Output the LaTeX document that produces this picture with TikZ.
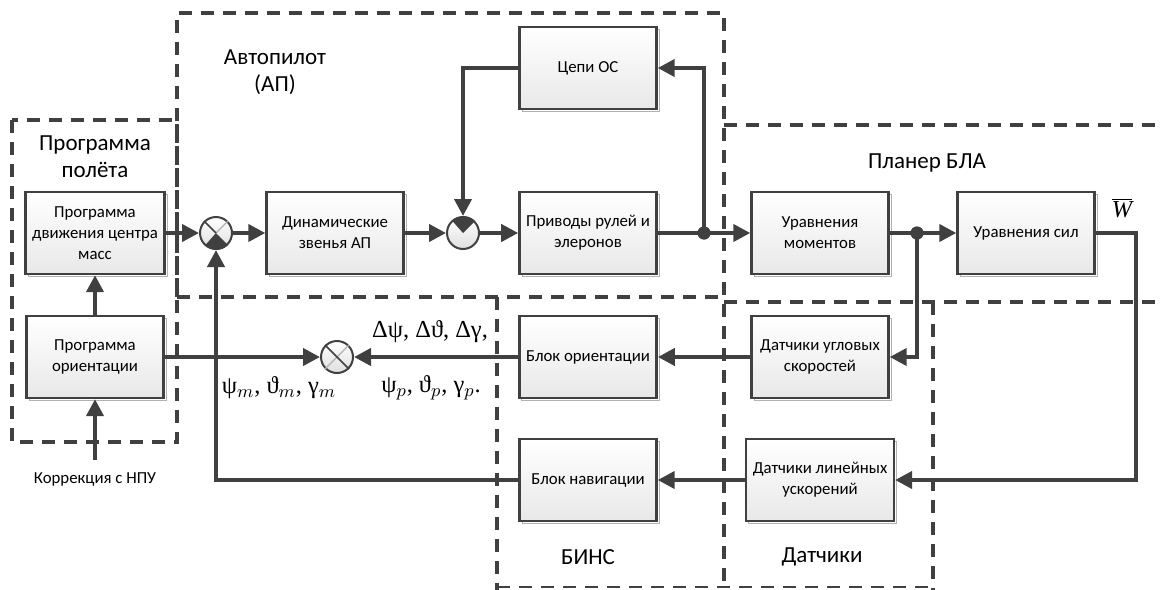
\documentclass[tikz,border=0pt]{standalone}
\usepackage{fontspec}
\setmainfont{Carlito}
\newfontfamily\grk{Liberation Serif}
\usetikzlibrary{arrows.meta, shadows}

\colorlet{linec}{black!75}

\begin{document}
\begin{tikzpicture}[
    x=0.5pt, y=-0.5pt,  % one unit = one pixel of the sketch grid
    >={Triangle[length=8.5pt, width=8.5pt]},
    block/.style={rectangle, draw=linec, line width=1.2pt,
        top color=white, bottom color=gray!18,
        minimum width=68.5pt, minimum height=41pt,
        align=center, font=\fontsize{8.4}{10.5}\selectfont,
        copy shadow={shadow xshift=1.3pt, shadow yshift=-1.3pt,
            draw=gray!60, line width=0.5pt, fill=white}},
    sum/.style={circle, draw=linec, line width=1pt, inner sep=0pt,
        minimum size=16pt, top color=white, bottom color=gray!25},
    dot/.style={circle, fill=linec, inner sep=0pt, minimum size=6.5pt},
    conn/.style={->, line width=2pt, draw=linec},
    zone/.style={line width=2pt, draw=linec, dash pattern=on 6.5pt off 4.5pt},
    zone label/.style={align=center, font=\fontsize{11.5}{13.5}\selectfont},
    sig/.style={font=\grk\fontsize{12.2}{14}\selectfont},
]
\useasboundingbox (0,0) rectangle (1160,589);

% ── Dashed zones ──────────────────────────────────────────────────────────────
\draw[zone] (12,120) rectangle (177,442);                 % program
\draw[zone] (177,297) -- (177,13) -- (724,13) -- (724,600); % autopilot
\draw[zone] (177,297) -- (724,297);
\draw[zone] (497,297) -- (497,600);                       % BINS
\draw[zone] (724,125) -- (1170,125);                      % airframe
\draw[zone] (724,302) -- (1170,302);
\draw[zone] (933,302) -- (933,600);                       % sensors
\draw[zone, line width=1pt] (497,587) -- (933,587);

% ── Zone titles ───────────────────────────────────────────────────────────────
\node[zone label] (tprog)  at (95,157)  {Программа\\полёта};
\node[zone label] (tap)    at (275,72)  {Автопилот\\(АП)};
\node[zone label] (tplan)  at (927,163) {Планер БЛА};
\node[zone label] (tbins)  at (588,557) {БИНС};
\node[zone label] (tsens)  at (822,557) {Датчики};

% ── Blocks ────────────────────────────────────────────────────────────────────
\node[block] (progcm) at (95,233)  {Программа\\движения центра\\масс};
\node[block] (progor) at (95,357)  {Программа\\ориентации};
\node[block] (dyn)    at (335,233) {Динамические\\звенья АП};
\node[block] (fb)     at (588,68)  {Цепи ОС};
\node[block] (act)    at (588,233) {Приводы рулей и\\элеронов};
\node[block] (mom)    at (820,233) {Уравнения\\моментов};
\node[block] (force)  at (1026,233) {Уравнения сил};
\node[block] (gyro)   at (820,357) {Датчики угловых\\скоростей};
\node[block] (accel)  at (820,480) {Датчики линейных\\ускорений};
\node[block] (orient) at (588,357) {Блок ориентации};
\node[block] (nav)    at (588,480) {Блок навигации};

% ── Summing junctions ─────────────────────────────────────────────────────────
\node[sum] (s1) at (216,233) {};
\node[sum] (s2) at (463,233) {};
\node[sum] (s3) at (337,357) {};

\fill[linec] (s1.center) -- (s1.-45) arc[start angle=-45, end angle=-135, radius=8pt] -- cycle;
\draw[gray!60, line width=0.6pt] (s1.45) -- (s1.center);
\draw[linec, line width=0.8pt] (s1.135) -- (s1.center);
\fill[linec] (s2.center) -- (s2.45) arc[start angle=45, end angle=135, radius=8pt] -- cycle;
\draw[gray!60, line width=0.6pt] (s3.45) -- (s3.-135);
\draw[linec, line width=0.8pt] (s3.135) -- (s3.-45);

% ── Turning points ────────────────────────────────────────────────────────────
\coordinate (wturn) at (1136,233);
\coordinate (npu)   at (95,460);

% ── Forward path ──────────────────────────────────────────────────────────────
\draw[conn] (progcm) -- (s1);
\draw[conn] (s1) -- (dyn);
\draw[conn] (dyn) -- (s2);
\draw[conn] (s2) -- (act);
\node[dot] (d1) at (704,233) {};
\draw[conn] (act) -- (mom);
\node[dot] (d2) at (917,233) {};
\draw[conn] (mom) -- (force);

% ── Feedback loops ────────────────────────────────────────────────────────────
\draw[conn] (d1.center) |- (fb.east);
\draw[conn] (fb.west) -| (s2.north);
\draw[conn] (d2.center) |- (gyro.east);
\draw[conn] (force.east) -- (wturn) |- (accel.east);
\draw[conn] (gyro) -- (orient);
\draw[conn] (accel) -- (nav);
\draw[conn] (orient) -- (s3);
\draw[conn] (progor) -- (s3);
\draw[conn] (nav.west) -| (s1.south);
\draw[conn] (progor) -- (progcm);
\draw[conn] (npu) -- (progor.south);

% redraw the branch dots on top of the wires
\node[dot] at (d1) {};
\node[dot] at (d2) {};

% ── Signal labels ─────────────────────────────────────────────────────────────
\node[font=\fontsize{8.4}{10}\selectfont] (npulbl) at (95,479) {Коррекция с НПУ};
\node[sig] (wlbl) at (1122,208) {$\overline{\hbox{\grk\itshape W}}$};
\node[sig] (dlbl) at (430,332) {Δψ,\ Δϑ,\ Δγ,};
\node[sig] (plbl) at (431,388) {ψ$_p$,\ ϑ$_p$,\ γ$_p$.};
\node[sig] (mlbl) at (279,388) {ψ$_m$,\ ϑ$_m$,\ γ$_m$};

\end{tikzpicture}
\end{document}
